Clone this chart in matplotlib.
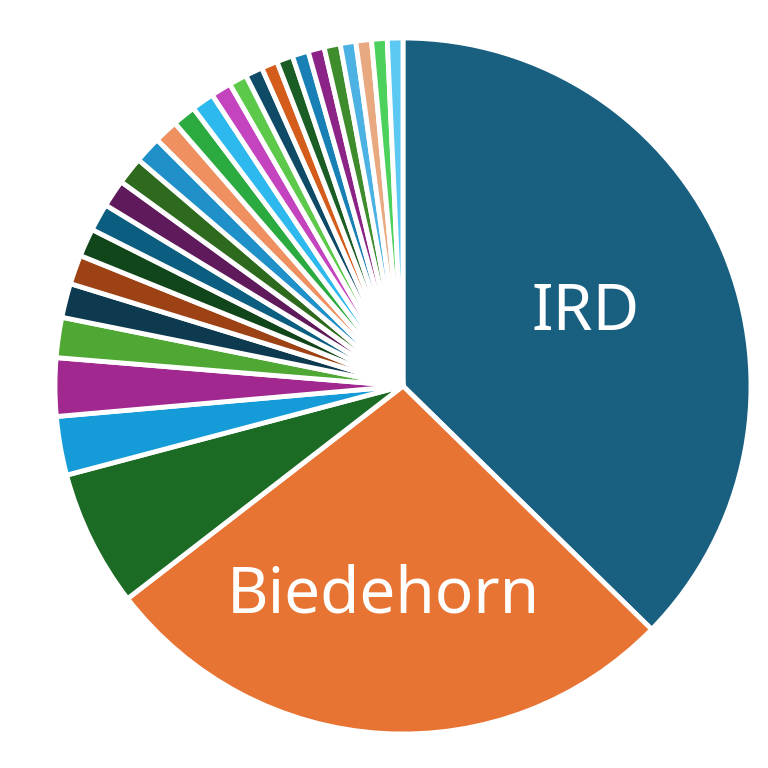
import numpy as np
import matplotlib.pyplot as plt

# share of each slice (in degrees of the circle)
names = ["IRD", "Biedehorn"] + [""] * 26
values = [134.2, 97.8, 22.8, 9.8, 9.7,
          6.7, 5.7, 4.9, 4.7, 4.6, 4.6, 4.6, 4.5, 4.0, 3.9, 3.8, 3.4,
          3.0, 2.9, 2.7, 2.7, 2.7, 2.7, 2.7, 2.6, 2.6, 2.6, 2.6]
colors = ["#185f80", "#e87433", "#1c6b25", "#159cd8", "#a0288f",
          "#4fa834", "#0d3a4f", "#9c4214", "#10461a", "#0b5e80", "#5f1a5b",
          "#2e6a1e", "#2090c8", "#ee9060", "#2aaa3f", "#2db8ee", "#c444c0",
          "#5cc94a", "#0f4a66", "#d45d1c", "#1a5e25", "#1980b5", "#8c2386",
          "#3e8c2c", "#4cb1e3", "#e8a880", "#4cd25c", "#5cc9f2"]

fig = plt.figure(figsize=(7.68, 7.68), dpi=100)
R = 348
ax = fig.add_axes([(403 - R) / 768, (768 - 386 - R) / 768, 2 * R / 768, 2 * R / 768])

wedges, texts = ax.pie(values, labels=names, colors=colors, startangle=90,
                       counterclock=False, radius=1, labeldistance=0.58,
                       wedgeprops=dict(edgecolor="white", linewidth=3.5))

# label placement: mid-angle of the wedge, nudged a little like the original
nudge = {"IRD": (-0.9, 0.572), "Biedehorn": (2.1, 0.584)}
for w, t in zip(wedges, texts):
    name = t.get_text()
    if name in nudge:
        da, r = nudge[name]
        ang = np.deg2rad((w.theta1 + w.theta2) / 2 - da)
        t.set_position((r * np.cos(ang), r * np.sin(ang)))
    t.set_ha("center")
    t.set_va("center_baseline")
    t.set_color("white")
    t.set_fontsize(46)
    t.set_family("Noto Sans")

ax.set_xlim(-1, 1)
ax.set_ylim(-1, 1)
ax.set_aspect("equal")
ax.axis("off")

fig.savefig("out.png", dpi=100)
